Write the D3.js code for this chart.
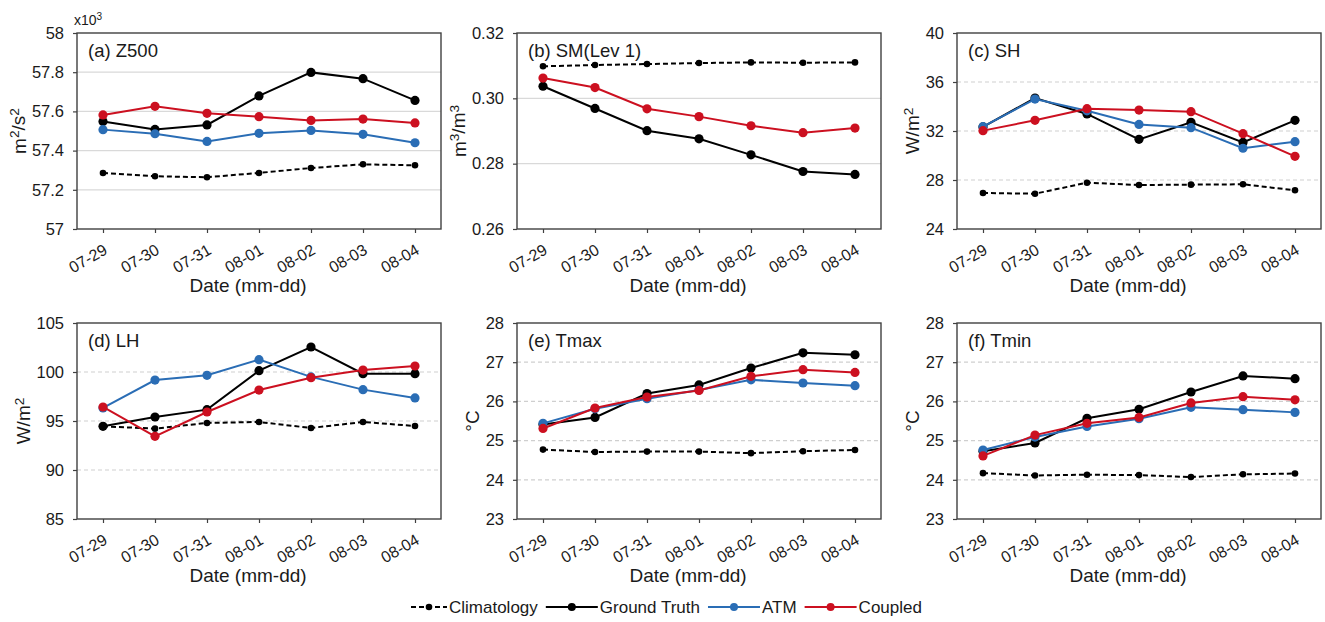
<!DOCTYPE html>
<html>
<head>
<meta charset="utf-8">
<script src="https://cdn.jsdelivr.net/npm/d3@7"></script>
<style>
  body { margin: 0; background: #fff; }
  svg { font-family: "Liberation Sans", Arial, sans-serif; }
</style>
</head>
<body>
<svg id="chart" width="1325" height="622"></svg>
<script>
const dates = ["07-29", "07-30", "07-31", "08-01", "08-02", "08-03", "08-04"];

// (a) Z500, x10^3 m2/s2
const z500Ticks = [57, 57.2, 57.4, 57.6, 57.8, 58];
const z500Clim = [57.286, 57.269, 57.264, 57.286, 57.311, 57.330, 57.325];
const z500Truth = [57.549, 57.508, 57.531, 57.679, 57.799, 57.767, 57.656];
const z500Atm = [57.507, 57.486, 57.447, 57.488, 57.503, 57.483, 57.440];
const z500Coupled = [57.582, 57.626, 57.590, 57.573, 57.554, 57.561, 57.541];

// (b) SM level 1
const smTicks = [0.26, 0.28, 0.30, 0.32];
const smClim = [0.3098, 0.3102, 0.3105, 0.3108, 0.3110, 0.3109, 0.3110];
const smTruth = [0.3037, 0.2969, 0.2901, 0.2876, 0.2827, 0.2776, 0.2767];
const smCoupled = [0.3062, 0.3033, 0.2968, 0.2944, 0.2916, 0.2895, 0.2909];

// (c) SH
const shTicks = [24, 28, 32, 36, 40];
const shClim = [26.94, 26.88, 27.78, 27.59, 27.62, 27.65, 27.16];
const shTruth = [32.33, 34.69, 33.39, 31.32, 32.71, 31.07, 32.87];
const shAtm = [32.35, 34.61, 33.65, 32.54, 32.27, 30.59, 31.13];
const shCoupled = [32.03, 32.87, 33.82, 33.71, 33.58, 31.78, 29.93];

// (d) LH
const lhTicks = [85, 90, 95, 100, 105];
const lhClim = [94.46, 94.22, 94.80, 94.90, 94.29, 94.90, 94.49];
const lhTruth = [94.46, 95.41, 96.16, 100.14, 102.55, 99.83, 99.83];
const lhAtm = [96.33, 99.18, 99.66, 101.26, 99.50, 98.20, 97.35];
const lhCoupled = [96.43, 93.44, 95.92, 98.16, 99.42, 100.20, 100.61];

// (e) Tmax
const tmaxTicks = [23, 24, 25, 26, 27, 28];
const tmaxClim = [24.77, 24.71, 24.72, 24.72, 24.68, 24.73, 24.76];
const tmaxTruth = [25.41, 25.59, 26.20, 26.42, 26.85, 27.24, 27.19];
const tmaxAtm = [25.44, 25.81, 26.07, 26.29, 26.55, 26.47, 26.40];
const tmaxCoupled = [25.31, 25.83, 26.11, 26.28, 26.64, 26.81, 26.74];

// (f) Tmin
const tminTicks = [23, 24, 25, 26, 27, 28];
const tminClim = [24.17, 24.11, 24.13, 24.12, 24.07, 24.14, 24.16];
const tminTruth = [24.73, 24.94, 25.57, 25.80, 26.24, 26.65, 26.58];
const tminAtm = [24.76, 25.09, 25.36, 25.56, 25.85, 25.79, 25.72];
const tminCoupled = [24.61, 25.14, 25.44, 25.59, 25.96, 26.12, 26.04];

const seriesNames = ["Climatology", "Ground Truth", "ATM", "Coupled"];
const colors = { "Climatology": "#000", "Ground Truth": "#000", "ATM": "#2a6db5", "Coupled": "#cc1020" };

// units: pieces after "^" are superscripts
const panels = [
  { label: "(a) Z500", unit: ["m", "^2", "/s", "^2"], ticks: z500Ticks, fmt: v => String(+v.toFixed(1)), grid: "solid", exp: true,
    data: [z500Clim, z500Truth, z500Atm, z500Coupled] },
  { label: "(b) SM(Lev 1)", unit: ["m", "^3", "/m", "^3"], ticks: smTicks, fmt: v => v.toFixed(2), grid: "solid",
    data: [smClim, smTruth, null, smCoupled] },
  { label: "(c) SH", unit: ["W/m", "^2"], ticks: shTicks, fmt: v => String(v), grid: "dash",
    data: [shClim, shTruth, shAtm, shCoupled] },
  { label: "(d) LH", unit: ["W/m", "^2"], ticks: lhTicks, fmt: v => String(v), grid: "dash",
    data: [lhClim, lhTruth, lhAtm, lhCoupled] },
  { label: "(e) Tmax", unit: ["°C"], ticks: tmaxTicks, fmt: v => String(v), grid: "dash",
    data: [tmaxClim, tmaxTruth, tmaxAtm, tmaxCoupled] },
  { label: "(f) Tmin", unit: ["°C"], ticks: tminTicks, fmt: v => String(v), grid: "dash",
    data: [tminClim, tminTruth, tminAtm, tminCoupled] }
];

function writeRich(text, parts) {
  let up = false;
  parts.forEach(s => {
    const sup = s.startsWith("^");
    const ts = text.append("tspan").text(sup ? s.slice(1) : s);
    if (sup) {
      ts.attr("font-size", "0.72em").attr("dy", "-0.45em");
      up = true;
    } else if (up) {
      ts.attr("dy", "0.32em");
      up = false;
    }
  });
}

const svg = d3.select("#chart");
const lefts = [77, 517, 957];
const tops = [33, 323];
const width = 364;
const height = 196;

const x = d3.scalePoint().domain(dates).range([0, width]).padding(0.5);

panels.forEach((p, i) => {
  const left = lefts[i % 3];
  const top = tops[Math.floor(i / 3)];
  const g = svg.append("g").attr("transform", `translate(${left},${top})`);

  const y = d3.scaleLinear()
    .domain([p.ticks[0], p.ticks[p.ticks.length - 1]])
    .range([height, 0]);

  // gridlines
  g.append("g")
    .selectAll("line")
    .data(p.ticks.slice(1, -1))
    .join("line")
    .attr("x1", 0)
    .attr("x2", width)
    .attr("y1", d => y(d))
    .attr("y2", d => y(d))
    .attr("stroke", p.grid === "solid" ? "#d9d9d9" : "#cfcfcf")
    .attr("stroke-width", 1.2)
    .attr("stroke-dasharray", p.grid === "solid" ? null : "4,3");

  // y axis
  const yAx = g.append("g")
    .call(d3.axisLeft(y).tickValues(p.ticks).tickFormat(p.fmt).tickSize(4).tickPadding(9));
  yAx.select(".domain").remove();
  yAx.selectAll("line").attr("stroke", "#404040").attr("stroke-width", 1.2);
  yAx.selectAll("text").attr("font-size", 16.5).attr("fill", "#1a1a1a").attr("font-family", null);

  // x axis
  const xAx = g.append("g")
    .attr("transform", `translate(0,${height})`)
    .call(d3.axisBottom(x).tickSize(4));
  xAx.select(".domain").remove();
  xAx.selectAll("line").attr("stroke", "#404040").attr("stroke-width", 1.2);
  xAx.selectAll("text")
    .attr("font-size", 16)
    .attr("fill", "#1a1a1a")
    .attr("font-family", null)
    .attr("x", 0).attr("y", 0).attr("dy", 0)
    .attr("text-anchor", "end")
    .attr("transform", "translate(5,24) rotate(-30)");

  // frame
  g.append("rect")
    .attr("width", width)
    .attr("height", height)
    .attr("fill", "none")
    .attr("stroke", "#404040")
    .attr("stroke-width", 1.4);

  // series
  p.data.forEach((vals, k) => {
    if (!vals) return;
    const name = seriesNames[k];
    const clim = name === "Climatology";
    const pts = vals.map((v, j) => [dates[j], v]);
    const line = d3.line().x(d => x(d[0])).y(d => y(d[1]));
    g.append("path")
      .datum(pts)
      .attr("d", line)
      .attr("fill", "none")
      .attr("stroke", colors[name])
      .attr("stroke-width", 2)
      .attr("stroke-dasharray", clim ? "5,3" : null);
    g.append("g")
      .selectAll("circle")
      .data(pts)
      .join("circle")
      .attr("cx", d => x(d[0]))
      .attr("cy", d => y(d[1]))
      .attr("r", clim ? 3.3 : 4.6)
      .attr("fill", colors[name]);
  });

  // panel label
  g.append("text")
    .attr("x", 11)
    .attr("y", 24)
    .attr("font-size", 18.5)
    .attr("fill", "#1a1a1a")
    .text(p.label);

  // y title
  const maxW = d3.max(yAx.selectAll("text").nodes(), n => n.getComputedTextLength());
  const yt = g.append("text")
    .attr("transform", `translate(${-(4 + 9 + maxW + 13)},${height / 2}) rotate(-90)`)
    .attr("text-anchor", "middle")
    .attr("dy", "0.35em")
    .attr("font-size", 19)
    .attr("fill", "#1a1a1a");
  writeRich(yt, p.unit);

  // x title
  g.append("text")
    .attr("x", 171)
    .attr("y", height + 63)
    .attr("text-anchor", "middle")
    .attr("font-size", 19)
    .attr("fill", "#1a1a1a")
    .text("Date (mm-dd)");

  if (p.exp) {
    const et = g.append("text")
      .attr("x", -3)
      .attr("y", -8)
      .attr("font-size", 14)
      .attr("fill", "#1a1a1a");
    writeRich(et, ["x10", "^3"]);
  }
});

// legend
const legY = 607;
let lx = 411;
seriesNames.forEach(name => {
  const clim = name === "Climatology";
  const len = clim ? 36 : 52;
  svg.append("line")
    .attr("x1", lx).attr("x2", lx + len)
    .attr("y1", legY).attr("y2", legY)
    .attr("stroke", colors[name])
    .attr("stroke-width", 2)
    .attr("stroke-dasharray", clim ? "5,3" : null);
  svg.append("circle")
    .attr("cx", lx + len / 2)
    .attr("cy", legY)
    .attr("r", clim ? 3.3 : 4)
    .attr("fill", colors[name]);
  const t = svg.append("text")
    .attr("x", lx + len + 2)
    .attr("y", legY)
    .attr("dy", "0.35em")
    .attr("font-size", 17)
    .attr("fill", "#1a1a1a")
    .text(name);
  lx += len + 2 + t.node().getComputedTextLength() + 8;
});
</script>
</body>
</html>
